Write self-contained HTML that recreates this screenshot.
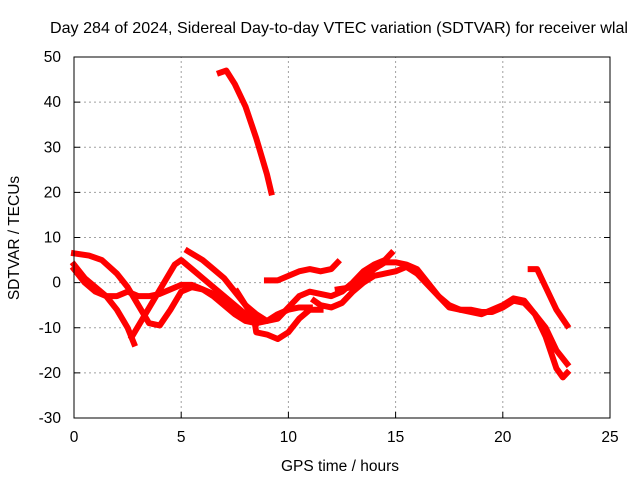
<!DOCTYPE html>
<html><head><meta charset="utf-8"><style>
body{margin:0;background:#fff;}
svg text{font-family:"Liberation Sans",sans-serif;font-size:15.5px;fill:#000;}
</style></head><body>
<svg id="chart" width="640" height="480" xmlns="http://www.w3.org/2000/svg">
<text x="50" y="33" textLength="578" lengthAdjust="spacingAndGlyphs" style="font-size:16px">Day 284 of 2024, Sidereal Day-to-day VTEC variation (SDTVAR) for receiver wlal</text>
<text x="340" y="471" text-anchor="middle">GPS time / hours</text>
<text transform="translate(19,238) rotate(-90)" text-anchor="middle">SDTVAR / TECUs</text>
<g id="grid"></g><g id="ticks"></g><g id="series"></g>
<rect x="74" y="57" width="536" height="361" fill="none" stroke="#000" stroke-width="1"/>
</svg>
<script>
const xTicks=[0,5,10,15,20,25];
const yTicks=[-30,-20,-10,0,10,20,30,40,50];
const sA=[[6.8,46.5],[7.1,47],[7.5,44],[8,39],[8.5,32],[9,24],[9.2,20]];
const sB=[[0,4],[0.5,1],[1,-1],[1.5,-3],[2,-6],[2.5,-10],[2.8,-13.5]];
const sC=[[0,3],[0.5,0],[1,-2],[1.5,-3],[2,-3],[2.5,-2],[3,-3],[3.5,-3],[4,-2.5],[4.5,-1.5],[5,-0.5],[5.5,-0.5],[6,-1.5],[6.5,-2.5],[7,-4],[7.5,-6],[8,-8],[8.5,-9],[9,-8.5],[9.5,-7],[10,-6],[10.5,-5.5],[11,-5.5]];
const sD=[[0,6.5],[0.7,6],[1.3,5],[2,2],[2.5,-1],[3,-5],[3.5,-9],[4,-9.5],[4.5,-6],[5,-2],[5.5,-1],[6,-1.5],[6.5,-3],[7,-5],[7.5,-7],[8,-8.5],[8.5,-9]];
const sE=[[2.7,-12],[3.2,-8],[3.7,-4],[4.2,0],[4.7,4],[5,5],[5.5,3],[6,1],[6.5,-1],[7,-3],[7.5,-5],[8,-7],[8.5,-8.5]];
const sF=[[5.3,7],[6,5],[6.5,3],[7,1],[7.5,-2],[8,-5],[8.5,-7],[9,-8.5],[9.5,-8],[10,-5.5],[10.5,-3],[11,-2],[11.5,-2.5],[12,-3],[12.5,-2],[13,0],[13.5,2.5],[14,4],[14.5,5],[14.8,6.5]];
const sG=[[7.6,-2],[8,-5],[8.4,-8],[8.5,-11],[9,-11.5],[9.5,-12.5],[10,-11],[10.5,-8],[11,-6],[11.5,-6]];
const sH=[[9,0.5],[9.5,0.5],[10,1.5],[10.5,2.5],[11,3],[11.5,2.5],[12,3],[12.3,4.5]];
const sI=[[11.2,-4],[11.5,-5],[12,-5.5],[12.5,-4.5],[13,-2],[13.5,0],[14,1.5],[14.5,2],[15,2.5],[15.5,3.5],[16,2],[16.5,-0.5],[17,-3],[17.5,-5.5],[18,-6],[18.5,-6],[19,-6.5],[19.5,-6.5],[20,-5.5],[20.5,-4],[21,-4.5],[21.5,-7],[22,-12],[22.5,-19],[22.8,-21],[23,-20]];
const sJ=[[12.3,-1.5],[13,-1],[13.5,1],[14,3],[14.5,4.5],[15,4.5],[15.5,4],[16,3],[16.5,0],[17,-3],[17.5,-5],[18,-6],[19,-7],[20,-5],[20.5,-3.5],[21,-4],[21.5,-7],[22,-10],[22.5,-15],[23,-18]];
const sK=[[21.3,3],[21.6,3],[22,-1],[22.5,-6],[23,-9.5]];
const allSeries=[sA,sB,sC,sD,sE,sF,sG,sH,sI,sJ,sK];
const X0=74,X1=610,Y0=418,Y1=57;
const xs=v=>X0+(v-0)/25*(X1-X0);
const ys=v=>Y0-(v+30)/80*(Y0-Y1);
const NS="http://www.w3.org/2000/svg";
const grid=document.getElementById('grid'),ticks=document.getElementById('ticks'),ser=document.getElementById('series');
function mk(tag,attrs,parent){const e=document.createElementNS(NS,tag);for(const k in attrs)e.setAttribute(k,attrs[k]);parent.appendChild(e);return e;}
xTicks.forEach(t=>{const x=xs(t);
 if(t>0&&t<25){const g=mk('line',{x1:x,x2:x,y1:Y0,y2:Y1,stroke:'#a0a0a0','stroke-dasharray':'2,3'},grid);
 
 }
 const tk=mk('line',{x1:x,x2:x,y1:Y0,y2:Y0-6,stroke:'#000'},ticks);
 
 
 const tl=mk('text',{x:x,y:Y0+24,'text-anchor':'middle'},ticks);tl.textContent=t;
 
 
});
yTicks.forEach(t=>{const y=ys(t);
 if(t>-30&&t<50){const g=mk('line',{x1:X0,x2:X1,y1:y,y2:y,stroke:'#a0a0a0','stroke-dasharray':'2,3'},grid);
 
 }
 const tk=mk('line',{x1:X0,x2:X0+6,y1:y,y2:y,stroke:'#000'},ticks);
 
 
 const tk2=mk('line',{x1:X1,x2:X1-6,y1:y,y2:y,stroke:'#000'},ticks);
 
 
 const tl=mk('text',{x:X0-13,y:y+5,'text-anchor':'end'},ticks);tl.textContent=t;
 
 
});
allSeries.forEach((s,i)=>{
 const p=mk('polyline',{points:s.map(d=>xs(d[0])+','+ys(d[1])).join(' '),fill:'none',stroke:'#ff0000','stroke-width':6,'stroke-linejoin':'round','stroke-linecap':'square'},ser);
 
 
});
</script>
</body></html>
